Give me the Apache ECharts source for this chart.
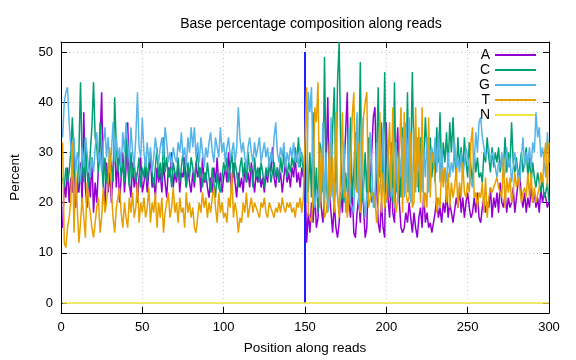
<!DOCTYPE html>
<html><head><meta charset="utf-8">
<script src="https://cdn.jsdelivr.net/npm/echarts@6/dist/echarts.min.js"></script>
<style>html,body{margin:0;padding:0;background:#fff}#c{width:576px;height:360px}</style>
</head><body><div id="c"></div>
<script>
const title = "Base percentage composition along reads";
const xTicks = [0, 50, 100, 150, 200, 250, 300];
const yTicks = [0, 10, 20, 30, 40, 50];
const seriesNames = ["A", "C", "G", "T", "N"];
const colors = ["#9400d3", "#009e73", "#56b4e9", "#e69f00", "#f0e442"];
const cutPosition = 150;

const valsA = [
15,24,21,27,20,25,22,30,19,24, 22,28,20,38,23,19,26,21,29,18, 24,20,27,32,42,24,19,28,22,26,
20,27,31,23,29,20,25,30,22,27, 36,24,21,28,23,26,20,25,29,22, 24,27,22,26,29,23,25,21,27,24,
26,22,28,24,21,27,25,30,23,26, 24,28,22,26,25,29,23,27,24,22, 26,23,28,25,27,22,29,24,26,23,
21,25,22,27,24,29,23,26,22,25, 27,24,30,25,22,28,24,21,26,23, 25,22,27,24,26,23,28,25,22,26,
24,27,23,25,22,26,24,28,26,31, 25,23,27,24,26,22,25,28,24,26, 23,27,25,29,24,26,23,27,25,26,
12,18,14,20,16,22,15,17,24,19, 16,16,28,41,22,18,14,20,15,13, 16,22,18,27,34,42,20,17,23,14,
13,18,21,16,25,19,13,15,28,22, 30,37,39,24,16,14,20,15,13,36, 21,17,25,18,16,28,35,20,15,14,
15,18,16,20,17,14,18,15,13,17, 19,15,22,16,18,15,16,14,14,18, 21,17,19,16,20,18,22,17,20,18,
16,16,21,19,23,18,21,17,20,22, 19,17,18,21,18,22,17,16,19,21, 18,20,19,23,17,21,19,22,18,24,
20,19,22,18,21,19,20,23,18,21, 24,26,21,19,22,18,21,19,23,20, 22,19,21,18,23,20,22,21,19,20
];
const valsC = [
25,23,27,24,26,30,37,27,24,22, 30,44,28,24,33,26,23,30,35,44, 33,31,26,36,28,23,29,24,25,30,
27,24,41,31,26,30,25,28,24,33, 27,23,30,25,28,24,26,29,23,27, 25,29,24,28,30,26,23,27,31,25,
28,24,33,26,29,25,27,23,28,26, 25,29,24,27,30,26,23,28,25,29, 27,24,28,30,25,27,23,26,24,28,
25,22,27,24,21,26,23,22,25,28, 26,29,24,27,30,25,28,26,23,27, 29,25,28,24,30,26,27,23,29,25,
27,24,28,26,23,27,25,29,24,26, 28,25,27,24,29,26,30,27,25,28, 26,29,27,31,28,33,27,30,26,29,
25,22,30,21,38,20,27,18,32,30, 22,49,24,20,26,24,35,43,23,44, 52,30,21,20,26,22,24,37,21,26,
34,22,27,48,20,23,30,21,33,25, 20,22,19,28,43,25,36,24,46,23, 28,21,32,20,44,22,24,30,21,35,
26,24,42,22,29,46,27,24,31,22, 33,24,28,37,30,26,33,25,30,24, 35,28,38,26,32,28,34,27,36,30,
37,29,25,33,27,31,26,33,28,25, 32,27,24,30,26,29,25,26,24,30, 28,33,29,26,31,27,30,28,31,26,
29,27,33,26,30,27,36,28,26,29, 25,27,30,26,28,31,25,29,24,28, 25,23,26,24,22,25,21,22,24,20
];
const valsG = [
33,40,42,43,36,31,28,33,26,30, 28,24,31,27,33,30,27,25,29,26, 31,34,28,30,26,32,35,29,33,27,
30,36,28,33,29,31,27,34,30,36, 32,28,35,30,27,33,42,31,29,37, 30,27,32,28,31,26,29,33,30,28,
31,33,29,35,32,28,30,27,31,29, 28,32,30,34,29,31,27,33,30,35, 31,35,29,32,28,33,30,27,31,29,
32,34,30,28,33,31,29,35,30,32, 28,31,33,29,30,32,28,31,39,33, 30,32,29,27,31,33,30,28,32,29,
31,33,28,30,32,29,31,27,30,28, 33,36,30,28,31,29,32,27,30,28, 31,29,32,28,30,27,31,29,28,30,
20,42,38,43,24,19,22,21,25,20, 36,19,30,18,20,37,22,19,24,21, 18,21,23,32,18,19,35,20,19,18,
30,38,20,18,37,21,17,22,20,34, 28,19,21,32,21,23,26,35,22,20, 30,26,21,23,19,32,20,29,25,33,
21,36,22,37,20,21,35,22,33,26, 28,22,31,25,33,22,30,31,28,33, 26,34,24,31,25,27,24,30,25,28,
26,32,27,29,26,30,25,28,31,29, 27,24,23,28,34,30,36,37,33,31, 29,30,31,28,30,29,27,25,28,27,
30,25,26,31,27,29,24,27,30,27, 26,24,29,33,27,30,28,31,27,32, 30,38,33,35,29,31,28,25,34,28
];
const valsT = [
32,12,11,15,17,20,32,14,26,19, 12,16,21,17,13,24,20,18,15,13, 16,19,21,14,17,23,18,20,24,31,
22,17,14,19,21,23,18,15,20,17, 15,21,18,22,17,19,24,16,20,18, 21,17,19,23,16,20,18,22,15,20,
17,21,14,18,20,22,17,19,23,18, 20,16,21,18,19,15,22,18,20,17, 19,15,14,17,20,18,22,19,21,17,
20,18,21,23,19,16,22,18,20,17, 18,16,21,19,26,17,20,18,14,17, 16,20,18,22,17,19,21,18,20,19,
18,17,20,19,21,18,17,20,19,18, 17,19,18,20,18,21,19,18,20,19, 20,18,19,17,20,19,21,18,21,21,
43,18,18,16,22,39,36,44,19,31, 26,17,18,21,32,21,29,18,38,22, 17,27,38,21,22,17,21,26,37,42,
23,22,32,18,18,37,40,42,19,19, 22,22,21,16,20,38,18,26,19,21, 21,36,22,39,21,18,21,21,39,18,
38,22,20,21,34,19,20,39,23,35, 20,39,19,22,19,37,21,30,28,25, 18,21,19,27,23,27,20,26,19,24,
21,23,27,19,24,21,28,22,21,24, 22,32,35,21,22,19,22,21,24,18, 25,17,21,23,22,23,24,25,23,23,
21,29,19,25,22,25,20,22,26,23, 25,23,20,22,23,21,26,21,26,20, 23,20,20,23,26,24,29,32,23,32
];
const valsN = new Array(300).fill(0);

const positions = valsA.map((_, i) => i + 1);
const allVals = [valsA, valsC, valsG, valsT, valsN];

const font = "Liberation Sans";
const gridStyle = { show: true, lineStyle: { color: "#c4c4c4", type: [1, 3], width: 1 } };

const series = seriesNames.map((name, k) => ({
  name: name,
  type: "line",
  data: positions.map((p, i) => [p, allVals[k][i]]),
  showSymbol: false,
  symbol: "none",
  lineStyle: { color: colors[k], width: 1.5 },
  itemStyle: { color: colors[k] },
  z: 2 + k,
  animation: false
}));
series.push({
  name: "cut",
  type: "line",
  data: [],
  markLine: {
    silent: true, symbol: "none", animation: false,
    label: { show: false },
    lineStyle: { color: "#2020ff", width: 2, type: "solid" },
    data: [[{ coord: [cutPosition, 0] }, { coord: [cutPosition, 50] }]]
  },
  z: 10
});

const chart = echarts.init(document.getElementById("c"), null, { renderer: "canvas" });
chart.setOption({
  backgroundColor: "#fff",
  animation: false,
  title: {
    text: title, left: 306, top: 12, textAlign: "center",
    textStyle: { fontFamily: font, fontSize: 14, fontWeight: "normal", color: "#000" }
  },
  legend: {
    data: seriesNames, orient: "vertical", right: 40, top: 48, padding: 0,
    align: "right", icon: "rect", itemWidth: 41, itemHeight: 2, itemGap: 1,
    textStyle: { fontFamily: font, fontSize: 14, color: "#000" }
  },
  grid: { left: 61, right: 27, top: 42, bottom: 45 },
  xAxis: [{
    type: "value", min: 0, max: 300, interval: 50,
    name: "Position along reads", nameLocation: "middle", nameGap: 28,
    nameTextStyle: { fontFamily: font, fontSize: 13.5, color: "#000" },
    axisLine: { show: true, onZero: false, lineStyle: { color: "#000", width: 1 } },
    axisTick: { inside: true, length: 6, lineStyle: { color: "#000" } },
    axisLabel: { fontFamily: font, fontSize: 13, color: "#000", margin: 8 },
    splitLine: gridStyle
  }, {
    type: "value", min: 0, max: 300, interval: 50, position: "top",
    axisLine: { show: true, onZero: false, lineStyle: { color: "#000", width: 1 } },
    axisTick: { inside: true, length: 6, lineStyle: { color: "#000" } },
    axisLabel: { show: false }, splitLine: { show: false }
  }],
  yAxis: [{
    type: "value", min: -2, max: 52,
    name: "Percent", nameLocation: "middle", nameGap: 39,
    nameTextStyle: { fontFamily: font, fontSize: 13.5, color: "#000" },
    axisLine: { show: true, onZero: false, lineStyle: { color: "#000", width: 1 } },
    axisTick: { inside: true, length: 6, customValues: yTicks, lineStyle: { color: "#000" } },
    axisLabel: { fontFamily: font, fontSize: 13, color: "#000", margin: 8, customValues: yTicks },
    splitLine: gridStyle
  }, {
    type: "value", min: -2, max: 52, position: "right",
    axisLine: { show: true, onZero: false, lineStyle: { color: "#000", width: 1 } },
    axisTick: { inside: true, length: 6, customValues: yTicks, lineStyle: { color: "#000" } },
    axisLabel: { show: false, customValues: yTicks }, splitLine: { show: false }
  }],
  series: series
});
</script></body></html>
